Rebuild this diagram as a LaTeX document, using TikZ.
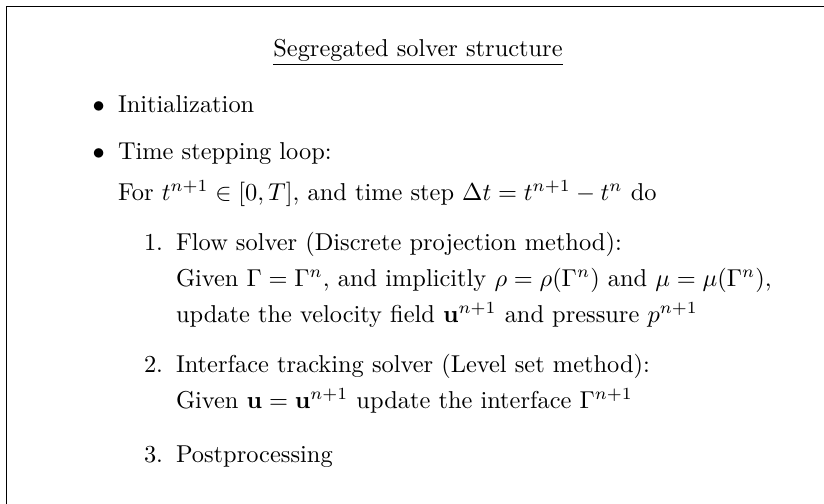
\documentclass[tikz,border=0pt]{standalone}
\usepackage{amsmath}
\begin{document}
\begin{tikzpicture}[x=0.4098pt, y=-0.4098pt,
  txt/.style={anchor=base west, inner sep=0pt, outer sep=0pt},
  framerule/.style={draw=black, line width=0.4pt}]
  % page area; the frame runs past the right and bottom edges
  \clip (0,0) rectangle (824,504);
  \fill[white] (0,0) rectangle (824,504);
  \draw[framerule] (6.5,6) rectangle (900,600);

  % heading
  \node[anchor=base, inner sep=0pt] (title) at (418,56) {\underline{Segregated solver structure}};

  % first level
  \node[txt] (b1) at (92.5,112) {$\bullet$};
  \node[txt] (init) at (118,112) {Initialization};
  \node[txt] (b2) at (92.5,159) {$\bullet$};
  \node[txt] (loop) at (118,159) {Time stepping loop:};
  \node[txt] (for) at (118,200) {For $t^{n+1} \in [0,T]$, and time step $\Delta t = t^{n+1} - t^n$ do};

  % second level
  \node[txt] (n1) at (144,250) {1.};
  \node[txt] (flow) at (176,250) {Flow solver (Discrete projection method):};
  \node[txt] (flowa) at (176,286) {Given $\Gamma = \Gamma^n$, and implicitly $\rho = \rho(\Gamma^n)$ and $\mu = \mu(\Gamma^n)$,};
  \node[txt] (flowb) at (176,322) {update the velocity field $\mathbf{u}^{n+1}$ and pressure $p^{n+1}$};

  \node[txt] (n2) at (144,372) {2.};
  \node[txt] (track) at (176,372) {Interface tracking solver (Level set method):};
  \node[txt] (tracka) at (176,408) {Given $\mathbf{u} = \mathbf{u}^{n+1}$ update the interface $\Gamma^{n+1}$};

  \node[txt] (n3) at (144,462) {3.};
  \node[txt] (post) at (176,462) {Postprocessing};
\end{tikzpicture}
\end{document}
